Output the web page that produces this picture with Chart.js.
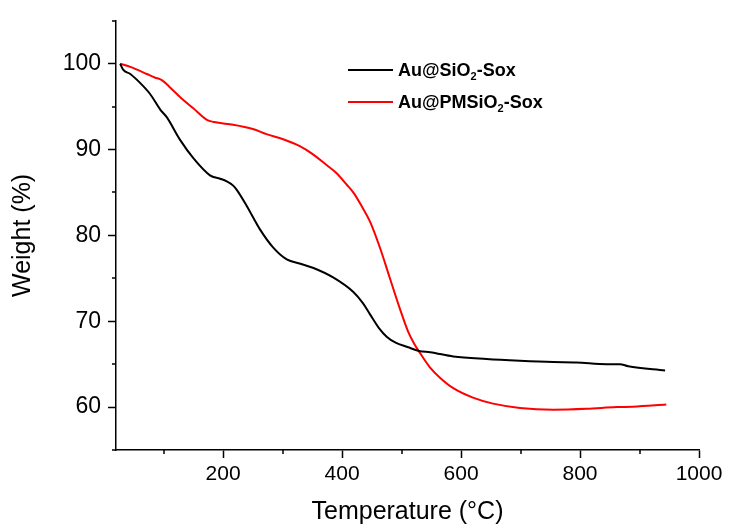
<!DOCTYPE html>
<html lang="en">
<head>
<meta charset="UTF-8" />
<title>TGA curves</title>
<script src="https://cdn.jsdelivr.net/npm/chart.js"></script>
<style>
  body { margin: 0; background: #fff; font-family: 'Liberation Sans', Arial, sans-serif; }
  #wrap { position: relative; width: 729px; height: 528px; }
  .legend-row { position: absolute; left: 348px; height: 20px; line-height: 20px; font-size: 18px; font-weight: bold; color: #000; white-space: nowrap; }
  .legend-row .swatch { position: absolute; left: 0; top: 9px; width: 45px; height: 2px; }
  .legend-row .label { position: absolute; left: 50px; top: 0; }
  sub { font-size: 11px; vertical-align: -4px; line-height: 0; }
</style>
</head>
<body>
<div id="wrap">
  <canvas id="tga" width="729" height="528"></canvas>
  <div class="legend-row" style="top: 60px;"><span class="swatch" style="background:#000;"></span><span class="label">Au@SiO<sub>2</sub>-Sox</span></div>
  <div class="legend-row" style="top: 92px;"><span class="swatch" style="background:#ff0000;"></span><span class="label">Au@PMSiO<sub>2</sub>-Sox</span></div>
</div>
<script>
  // Au@SiO2-Sox
  const siTemp = [27, 32, 44, 60, 77, 95, 105, 128, 150, 178, 195, 206, 217, 223, 240, 262, 284, 307, 330, 352, 385, 419, 435, 447, 462, 475, 490, 510, 531, 548, 587, 643, 699, 755, 794, 845, 867, 881, 943]
  const siWeight = [100, 99.3, 98.8, 97.8, 96.5, 94.6, 93.8, 91.1, 89.0, 87.0, 86.6, 86.3, 85.8, 85.3, 83.4, 80.7, 78.6, 77.2, 76.7, 76.2, 75.1, 73.4, 72.1, 70.8, 69.2, 68.2, 67.5, 67.0, 66.5, 66.4, 65.9, 65.6, 65.4, 65.25, 65.2, 65.0, 65.0, 64.75, 64.25]

  // Au@PMSiO2-Sox
  const pmTemp = [27, 45, 72, 85, 97, 110, 128, 150, 172, 185, 217, 250, 273, 301, 329, 350, 374, 390, 408, 420, 433, 447, 464, 480, 497, 511, 522, 531, 548, 565, 587, 620, 654, 699, 755, 811, 861, 889, 945]
  const pmWeight = [100, 99.6, 98.8, 98.4, 98.1, 97.3, 96.1, 94.8, 93.5, 93.2, 92.9, 92.4, 91.8, 91.2, 90.4, 89.5, 88.2, 87.3, 85.9, 84.9, 83.4, 81.6, 78.5, 75.1, 71.5, 68.8, 67.3, 66.3, 64.6, 63.4, 62.2, 61.1, 60.4, 59.9, 59.7, 59.8, 60.0, 60.05, 60.3]

  const xMajor = [200, 400, 600, 800, 1000]
  const xMinor = [100, 300, 500, 700, 900]
  const yMajor = [60, 70, 80, 90, 100]
  const yMinor = [55, 65, 75, 85, 95, 105]

  const toPoints = (xs, ys) => xs.map((x, i) => ({ x, y: ys[i] }))

  // short unlabeled ticks halfway between the labeled ones
  const minorTicks = {
    id: 'minorTicks',
    afterDraw(chart) {
      const { ctx, scales: { x, y } } = chart
      ctx.save()
      ctx.strokeStyle = '#000'
      ctx.lineWidth = 1.5
      ctx.beginPath()
      xMinor.forEach(v => {
        const px = Math.round(x.getPixelForValue(v))
        ctx.moveTo(px, y.bottom)
        ctx.lineTo(px, y.bottom + 4)
      })
      yMinor.forEach(v => {
        const py = Math.round(y.getPixelForValue(v))
        ctx.moveTo(x.left, py)
        ctx.lineTo(x.left - 4, py)
      })
      ctx.stroke()
      ctx.restore()
    }
  }

  const family = "'Liberation Sans', Arial, sans-serif"
  const titleFont = { family, size: 25 }

  new Chart(document.getElementById('tga'), {
    type: 'line',
    data: {
      datasets: [
        {
          label: 'Au@SiO2-Sox',
          data: toPoints(siTemp, siWeight),
          borderColor: '#000',
          borderWidth: 2,
          pointRadius: 0,
          cubicInterpolationMode: 'monotone'
        },
        {
          label: 'Au@PMSiO2-Sox',
          data: toPoints(pmTemp, pmWeight),
          borderColor: '#ff0000',
          borderWidth: 2,
          pointRadius: 0,
          cubicInterpolationMode: 'monotone'
        }
      ]
    },
    options: {
      responsive: false,
      animation: false,
      devicePixelRatio: 1,
      layout: { padding: { top: 16, right: 30, left: 0, bottom: 0 } },
      plugins: {
        legend: { display: false },
        tooltip: { enabled: false }
      },
      scales: {
        x: {
          type: 'linear',
          min: 20,
          max: 1000,
          afterBuildTicks: s => { s.ticks = xMajor.map(v => ({ value: v })) },
          afterFit: s => { s.height = 78 },
          border: { color: '#000', width: 1.5 },
          grid: { drawOnChartArea: false, tickLength: 8, tickColor: '#000', tickWidth: 1.5 },
          ticks: { font: { family, size: 21 }, color: '#000', padding: 4, maxRotation: 0, callback: v => String(v) },
          title: { display: true, text: 'Temperature (°C)', font: titleFont, color: '#000', padding: { top: 0, bottom: 1 } }
        },
        y: {
          min: 55,
          max: 105,
          afterBuildTicks: s => { s.ticks = yMajor.map(v => ({ value: v })) },
          afterFit: s => { s.width = 116 },
          border: { color: '#000', width: 1.5 },
          grid: { drawOnChartArea: false, tickLength: 8, tickColor: '#000', tickWidth: 1.5 },
          ticks: { font: { family, size: 23 }, color: '#000', padding: 7, callback: v => String(v) },
          title: { display: true, text: 'Weight (%)', font: titleFont, color: '#000', padding: { top: 8, bottom: 0 } }
        }
      }
    },
    plugins: [minorTicks]
  })
</script>
</body>
</html>
